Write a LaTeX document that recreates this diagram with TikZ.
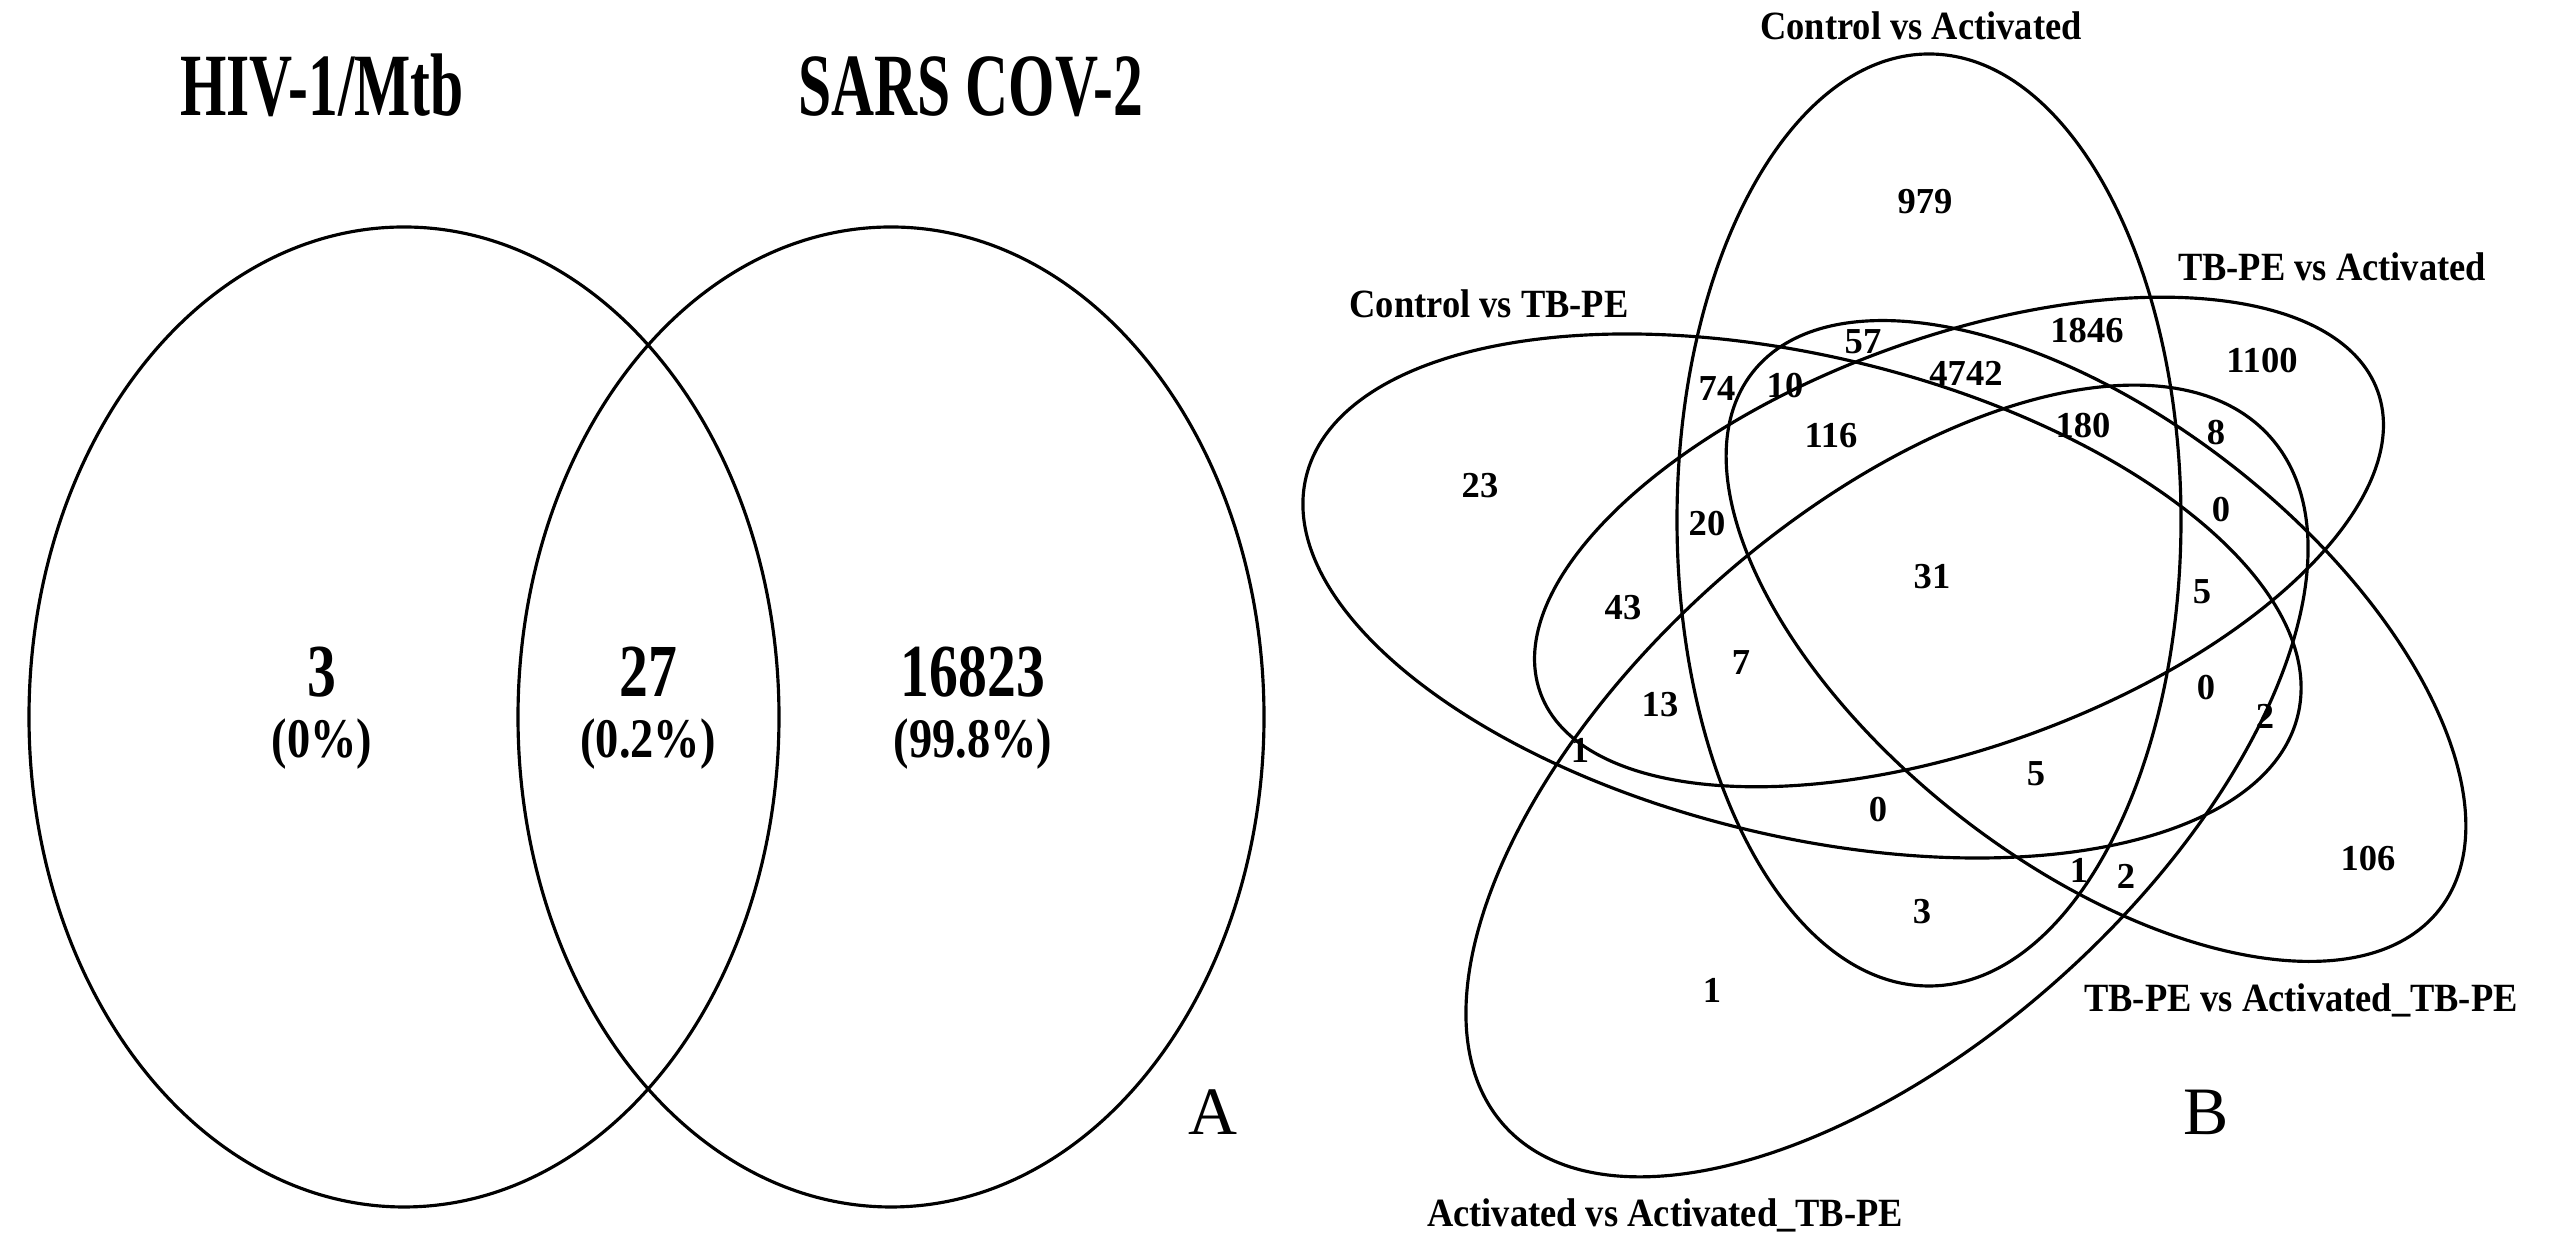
\documentclass[tikz,border=0pt]{standalone}
\usepackage{fontspec}
\setmainfont{Liberation Serif}
\newfontfamily\titlefont[FakeStretch=0.67]{Liberation Serif}
\newfontfamily\countfont[FakeStretch=0.77]{Liberation Serif}
\newfontfamily\pctfont[FakeStretch=0.83]{Liberation Serif}
\newfontfamily\setfont[FakeStretch=0.91]{Liberation Serif}

\begin{document}
\begin{tikzpicture}[x=0.1mm,y=0.1mm,
    venn/.style={line width=0.9pt},
    title/.style={anchor=base,font=\titlefont\bfseries\fontsize{25.3}{28}\selectfont},
    count/.style={anchor=base,font=\countfont\bfseries\fontsize{21.3}{24}\selectfont},
    pct/.style={anchor=base,font=\pctfont\bfseries\fontsize{15.9}{18}\selectfont},
    panel/.style={anchor=base,font=\fontsize{19.3}{22}\selectfont},
    setname/.style={anchor=base,font=\setfont\bfseries\fontsize{11.4}{13}\selectfont},
    num/.style={font=\bfseries\fontsize{10.4}{12}\selectfont}]
    \useasboundingbox (0,0) rectangle (2560,1235);
    % A: two sets
    \draw[venn] (404,518) ellipse [x radius=375, y radius=490];
    \draw[venn] (891,518) ellipse [x radius=373, y radius=490];
    \node[title] (tHIV) at (322,1119) {HIV-1/Mtb};
    \node[title] (tSARS) at (971,1119) {SARS COV-2};
    \node[count] (cHIV) at (322,538) {3};
    \node[pct] (pHIV) at (322,477) {(0\%)};
    \node[count] (cBoth) at (648,538) {27};
    \node[pct] (pBoth) at (648,477) {(0.2\%)};
    \node[count] (cSARS) at (973,538) {16823};
    \node[pct] (pSARS) at (973,477) {(99.8\%)};
    \node[panel] (lblA) at (1213,100) {A};
    % B: five sets
    \draw[venn] (1929,715) ellipse [x radius=252, y radius=466];
    \draw[venn] (1802,639) ellipse [x radius=510, y radius=240, rotate=-13.5];
    \draw[venn] (1959,693) ellipse [x radius=445, y radius=205, rotate=19.8];
    \draw[venn] (2096,594) ellipse [x radius=436, y radius=222, rotate=-38];
    \draw[venn] (1887,454) ellipse [x radius=515, y radius=262, rotate=42];
    \node[setname] (sCA) at (1921,1195) {Control vs Activated};
    \node[setname] (sCT) at (1489,917) {Control vs TB-PE};
    \node[setname] (sTA) at (2332,954) {TB-PE vs Activated};
    \node[setname] (sTAT) at (2301,223) {TB-PE vs Activated\_TB-PE};
    \node[setname] (sAAT) at (1665,8) {Activated vs Activated\_TB-PE};
    \node[num] (n979) at (1925,1033) {979};
    \node[num] (n23) at (1480,749) {23};
    \node[num] (n74) at (1717,847) {74};
    \node[num] (n10) at (1785,849) {10};
    \node[num] (n57) at (1863,893) {57};
    \node[num] (n116) at (1831,799) {116};
    \node[num] (n20) at (1707,711) {20};
    \node[num] (n43) at (1623,627) {43};
    \node[num] (n4742) at (1966,862) {4742};
    \node[num] (n1846) at (2087,904) {1846};
    \node[num] (n1100) at (2262,874) {1100};
    \node[num] (n180) at (2083,809) {180};
    \node[num] (n8) at (2216,802) {8};
    \node[num] (n0a) at (2221,725) {0};
    \node[num] (n31) at (1932,658) {31};
    \node[num] (n5a) at (2202,643) {5};
    \node[num] (n13) at (1660,530) {13};
    \node[num] (n7) at (1741,572) {7};
    \node[num] (n1a) at (1580,485) {1};
    \node[num] (n0b) at (1878,425) {0};
    \node[num] (n1b) at (1712,245) {1};
    \node[num] (n5b) at (2036,461) {5};
    \node[num] (n0c) at (2206,547) {0};
    \node[num] (n2a) at (2265,519) {2};
    \node[num] (n1c) at (2079,365) {1};
    \node[num] (n2b) at (2126,359) {2};
    \node[num] (n3) at (1922,323) {3};
    \node[num] (n106) at (2368,376) {106};
    \node[panel] (lblB) at (2206,100) {B};
\end{tikzpicture}
\end{document}
